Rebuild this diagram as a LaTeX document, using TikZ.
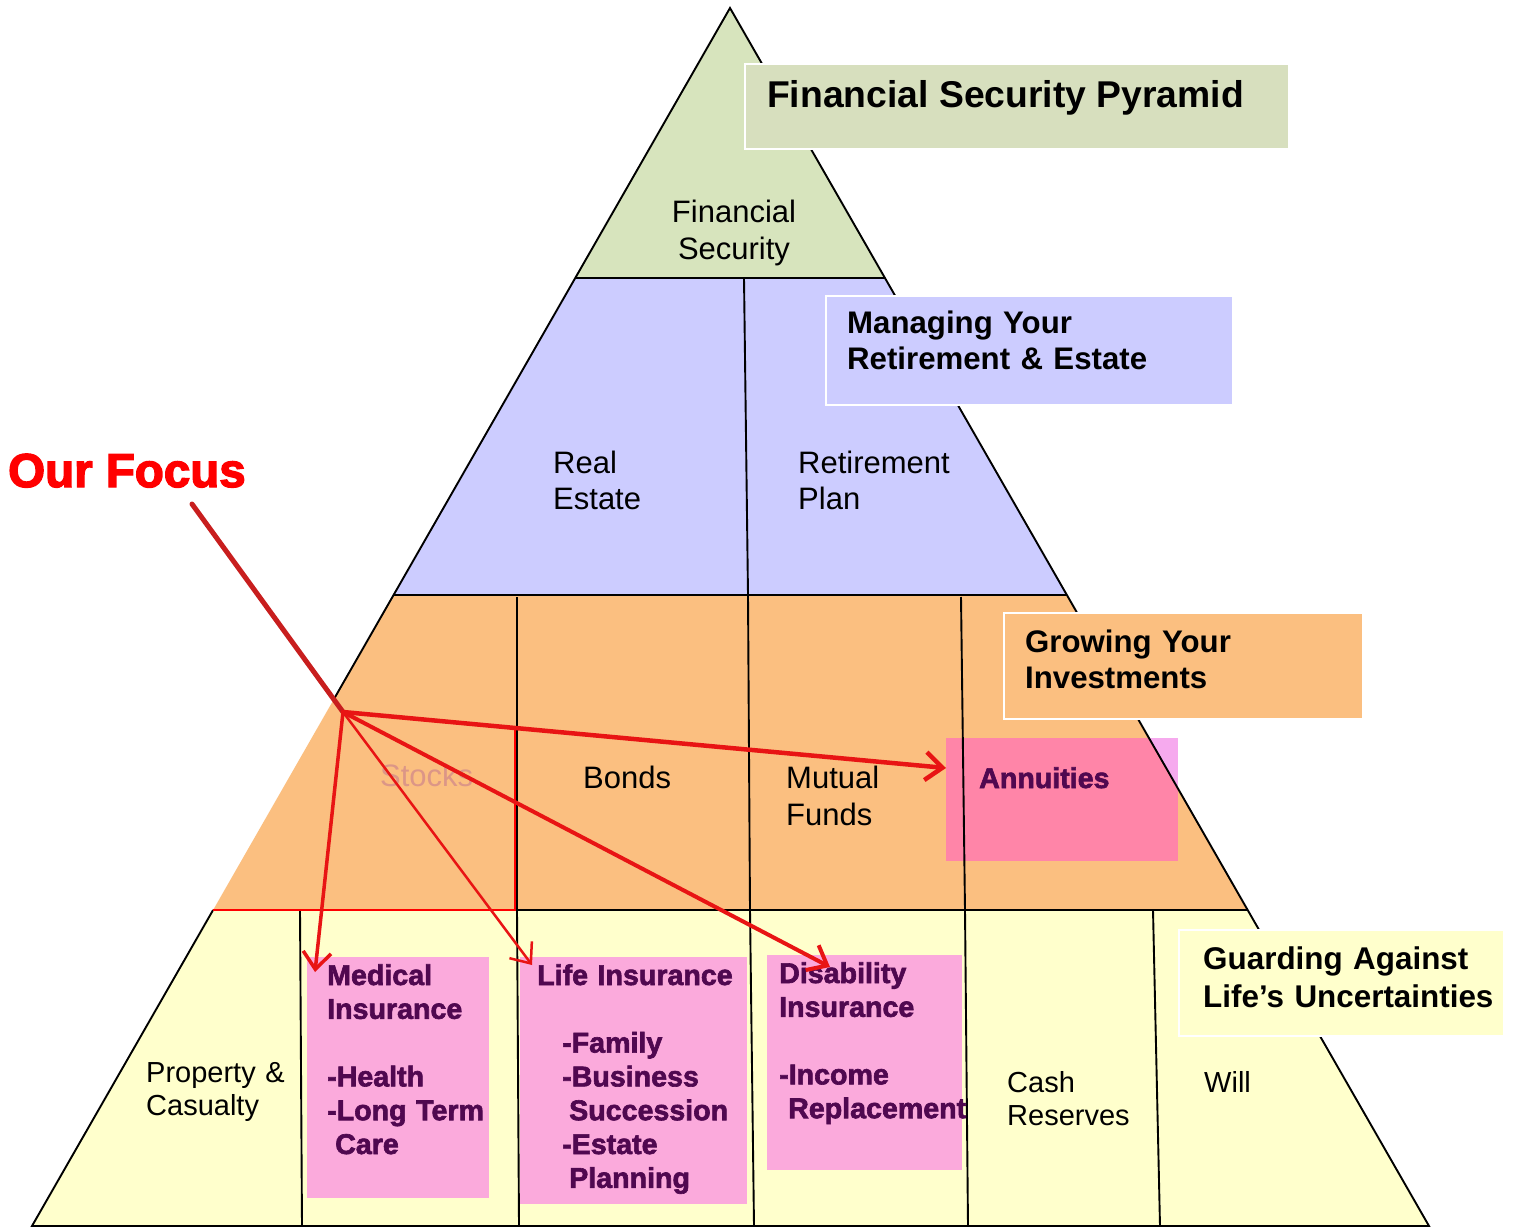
\documentclass[tikz,border=0pt]{standalone}
\usepackage{fontspec}
\setmainfont{Liberation Sans}
\newfontfamily\heavyfont[FakeBold=2.2]{Liberation Sans Bold}
\newfontfamily\focusfont[FakeBold=3]{Liberation Sans Bold}
\usetikzlibrary{arrows.meta}
\definecolor{tgreen}{RGB}{215,228,189}
\definecolor{tpurple}{RGB}{204,204,255}
\definecolor{torange}{RGB}{251,191,128}
\definecolor{tyellow}{RGB}{255,255,204}
\definecolor{titlebg}{RGB}{215,223,190}
\definecolor{pinkbg}{RGB}{251,170,220}
\definecolor{annin}{RGB}{255,133,168}
\definecolor{annout}{RGB}{246,170,238}
\definecolor{plum}{RGB}{80,8,80}
\definecolor{focusred}{RGB}{255,0,0}
\definecolor{arrred}{RGB}{232,20,20}
\definecolor{darkred}{RGB}{200,30,30}
\definecolor{stockcol}{RGB}{220,150,135}
\begin{document}
\begin{tikzpicture}[x=1pt,y=-1pt,
  edge/.style={line width=1.9pt, black},
  lbl/.style={inner sep=0pt, anchor=base west, align=left, text width=300pt,
    font=\fontsize{31}{37}\selectfont},
  smlbl/.style={inner sep=0pt, anchor=base west, align=left, text width=300pt,
    font=\fontsize{29}{33}\selectfont},
  hdr/.style={inner sep=0pt, anchor=base west, align=left, text width=400pt,
    font=\bfseries\fontsize{31.2}{36}\selectfont},
  hdrbox/.style={draw=white, line width=2pt, anchor=north west, inner sep=0pt},
  pinkbox/.style={fill=pinkbg, anchor=north west, inner sep=0pt},
  pinktxt/.style={inner sep=0pt, anchor=base west, align=left, text width=260pt,
    text=plum, font=\heavyfont\fontsize{28.6}{33.8}\selectfont},
  arr/.style={draw=arrred, -{Straight Barb[length=17pt,width=28pt]}, line cap=round},
]
\fill[white] (0,0) rectangle (1513,1228);
\useasboundingbox (0,0) rectangle (1513,1228);

% tier fills
\fill[tgreen] (730,8) -- (885,278) -- (575.3,278) -- cycle;
\fill[tpurple] (575.3,278) -- (885,278) -- (1067,595) -- (393.6,595) -- cycle;
\fill[torange] (393.6,595) -- (1067,595) -- (1247.7,910) -- (213.1,910) -- cycle;
\fill[tyellow] (213.1,910) -- (1247.7,910) -- (1429,1226) -- (32,1226) -- cycle;

% annuities box (semi transparent look)
\node[fill=annout, anchor=north west, inner sep=0pt, minimum width=232pt, minimum height=123pt] (annbox) at (946,738) {};
\begin{scope}
  \clip (393.6,595) -- (1067,595) -- (1247.7,910) -- (213.1,910) -- cycle;
  \fill[annin] (annbox.north west) rectangle (annbox.south east);
\end{scope}

% outline
\draw[edge] (333.4,700) -- (730,8) -- (1429,1226) -- (32,1226) -- (213.1,910);
\draw[edge] (575.3,278) -- (885,278);
\draw[edge] (393.6,595) -- (1067,595);
\draw[edge] (517,910) -- (1247.7,910);
% dividers
\draw[edge] (744,278) -- (748,595);
\draw[edge] (517,597) -- (517,910);
\draw[edge] (748,595) -- (750,910);
\draw[edge] (961,597) -- (965,910);
\draw[edge] (300,910) -- (302,1226);
\draw[edge] (517,910) -- (519,1226);
\draw[edge] (750,910) -- (754,1226);
\draw[edge] (965,910) -- (968,1226);
\draw[edge] (1153,910) -- (1160,1226);
% red outline remnants
\draw[red, line width=1.5pt] (515,730) -- (515,910) -- (213.1,910);

% header boxes
\node[hdrbox, fill=titlebg, minimum width=544pt, minimum height=85pt] (titlebox) at (744,63) {};
\node[hdrbox, fill=tpurple, minimum width=407pt, minimum height=109pt] (mgbox) at (825,295) {};
\node[hdrbox, fill=torange, minimum width=359pt, minimum height=106pt] (grbox) at (1003,612) {};
\node[hdrbox, fill=tyellow, minimum width=325pt, minimum height=106pt] (gdbox) at (1178,929) {};

\node[inner sep=0pt, anchor=base west, font=\bfseries\fontsize{37.3}{40}\selectfont] (title) at (767,108) {Financial Security Pyramid};
\node[hdr] (mgtxt) at (847,333) {Managing Your\\Retirement \& Estate};
\node[hdr] (grtxt) at (1025,652) {Growing Your\\Investments};
\node[hdr, font=\bfseries\fontsize{31.4}{38.5}\selectfont] (gdtxt) at (1203,969) {Guarding Against\\Life’s Uncertainties};

% pink boxes
\node[pinkbox, minimum width=182pt, minimum height=241pt] (medbox) at (307,957) {};
\node[pinkbox, minimum width=227pt, minimum height=247pt] (lifebox) at (520,957) {};
\node[pinkbox, minimum width=195pt, minimum height=215pt] (disbox) at (767,955) {};

% tier labels
\node[inner sep=0pt, anchor=base, align=center, text width=200pt, font=\fontsize{31}{37}\selectfont] (fs) at (734,222) {Financial\\Security};
\node[lbl, font=\fontsize{31}{36}\selectfont] (re) at (553,473) {Real\\Estate};
\node[lbl, font=\fontsize{31}{36}\selectfont] (rp) at (798,473) {Retirement\\Plan};
\node[lbl, text=stockcol] (stocks) at (380,786) {Stocks};
\node[lbl] (bonds) at (583,788) {Bonds};
\node[lbl] (mf) at (786,788) {Mutual\\Funds};
\node[smlbl] (pc) at (146,1082) {Property \&\\Casualty};
\node[smlbl] (cash) at (1007,1092) {Cash\\Reserves};
\node[smlbl] (will) at (1204,1092) {Will};

% pink texts
\node[pinktxt] (ann) at (979,788) {Annuities};
\node[pinktxt] (med) at (327,985) {Medical\\Insurance\\[33.8pt]-Health\\-Long Term\\\hspace*{8pt}Care};
\node[pinktxt] (life) at (537,985) {Life Insurance\\[33.8pt]\hspace*{25pt}-Family\\\hspace*{25pt}-Business\\\hspace*{32pt}Succession\\\hspace*{25pt}-Estate\\\hspace*{32pt}Planning};
\node[pinktxt] (dis) at (779,983) {Disability\\Insurance\\[33.8pt]-Income\\\hspace*{9pt}Replacement};

% Our Focus
\node[inner sep=0pt, anchor=base west, text=focusred, font=\focusfont\fontsize{47.5}{50}\selectfont] (focus) at (8,487) {Our Focus};

% arrows
\coordinate (focusend) at (192,504);
\coordinate (hub) at (343,712);
\coordinate (tipann) at (946,768);
\coordinate (tipmed) at (315,972);
\coordinate (tiplife) at (532,965);
\coordinate (tipdis) at (830,967);
\draw[darkred, line width=5pt, line cap=round] (focusend) -- (hub);
\draw[arr, line width=4.5pt] (hub) -- (tipann);
\draw[arr, line width=3.5pt] (hub) -- (tipmed);
\draw[arr, line width=2.5pt] (hub) -- (tiplife);
\draw[arr, line width=4pt] (hub) -- (tipdis);
\end{tikzpicture}
\end{document}
